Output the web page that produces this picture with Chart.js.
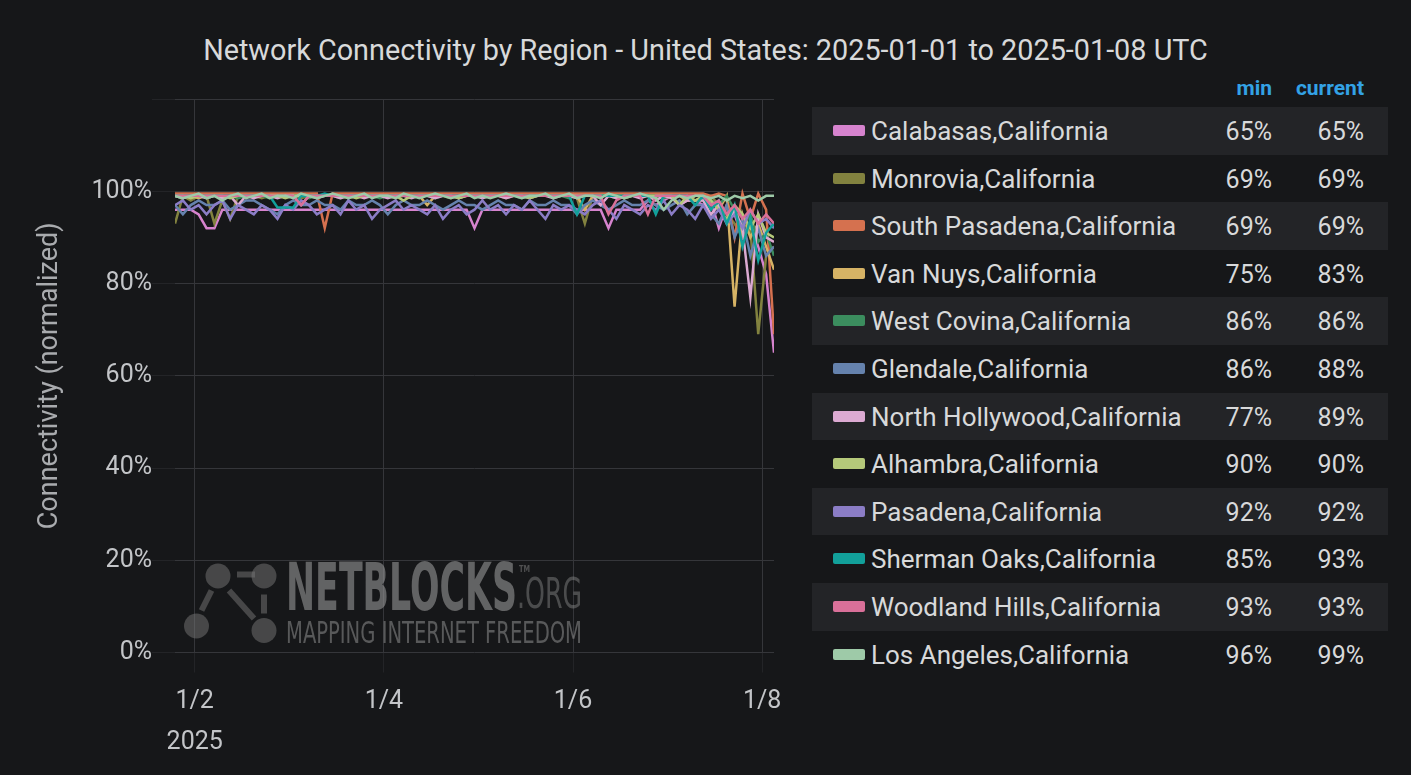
<!DOCTYPE html>
<html>
<head>
<meta charset="utf-8">
<script src="https://cdn.jsdelivr.net/npm/chart.js@4.4.1/dist/chart.umd.min.js"></script>
<style>
  html, body { margin: 0; padding: 0; background: #161719; }
  body { width: 1411px; height: 775px; position: relative; overflow: hidden; font-family: Roboto, sans-serif; }
  #title { position: absolute; left: 0; top: 36px; width: 1411px; text-align: center; font-size: 28.8px; line-height: 28px; color: #d8d9da; white-space: nowrap; }
  #chart { position: absolute; left: 0; top: 0; }
  #legend { position: absolute; left: 812px; top: 107px; width: 576px; }
  .row { position: relative; height: 47.6px; }
  .row.alt { background: #232427; }
  .sw { position: absolute; left: 21px; top: 18px; width: 32px; height: 11px; border-radius: 2px; }
  .name { position: absolute; left: 59px; top: 1px; line-height: 47.6px; font-size: 26px; color: #d8d9da; white-space: nowrap; }
  .val { position: absolute; top: 1px; line-height: 47.6px; font-size: 25px; color: #d8d9da; }
  .head { position: absolute; top: 74px; line-height: 28px; font-size: 21px; font-weight: 700; color: #33a2e5; }
</style>
</head>
<body>
<div id="title">Network Connectivity by Region - United States: 2025-01-01 to 2025-01-08 UTC</div>
<canvas id="chart" width="800" height="775"></canvas>
<div class="head" style="right:139px">min</div>
<div class="head" style="right:47px">current</div>
<div id="legend"></div>
<script>
// hours since 2025-01-01 00:00 UTC
const hours = [
  19, 21, 23, 25, 27, 29, 31, 33, 35, 37,
  39, 41, 43, 45, 47, 49, 51, 53, 55, 57,
  59, 61, 63, 65, 67, 69, 71, 73, 75, 77,
  79, 81, 83, 85, 87, 89, 91, 93, 95, 97,
  99, 101, 103, 105, 107, 109, 111, 113, 115, 117,
  119, 121, 123, 125, 127, 129, 131, 133, 135, 137,
  139, 141, 143, 145, 147, 149, 151,
  153, 155, 157, 159, 161, 163, 165, 167, 169, 171
];

const dayTicks = [24, 72, 120, 168];
const dayLabels = ['1/2', '1/4', '1/6', '1/8'];
const yearLabel = '2025';

const regions = [
  'Calabasas,California', 'Monrovia,California', 'South Pasadena,California', 'Van Nuys,California',
  'West Covina,California', 'Glendale,California', 'North Hollywood,California', 'Alhambra,California',
  'Pasadena,California', 'Sherman Oaks,California', 'Woodland Hills,California', 'Los Angeles,California'
];
const minVals = [65, 69, 69, 75, 86, 86, 77, 90, 92, 85, 93, 96];
const currentVals = [65, 69, 69, 83, 86, 88, 89, 90, 92, 93, 93, 99];

const calabasas = [
  96, 96, 96, 95, 92, 92, 96, 96, 96, 96,
  96, 96, 96, 96, 96, 96, 96, 96, 96, 96,
  96, 96, 96, 96, 96, 96, 96, 96, 96, 96,
  96, 96, 96, 96, 96, 96, 96, 96, 92, 96,
  96, 96, 96, 96, 96, 96, 96, 96, 96, 96,
  96, 96, 96, 96, 96, 92, 96, 96, 96, 96,
  98, 97, 98, 99, 97, 98, 98,
  97, 98, 92, 97, 95, 90, 93, 88, 82, 65
];
const monrovia = [
  93, 99, 98, 99, 99, 93, 98, 94, 99, 99,
  99, 98.5, 99, 99, 99, 99, 98.5, 99, 99, 99,
  99, 99, 98.5, 99, 99, 99, 99, 99, 98.5, 99,
  99, 99, 99, 99, 99, 98.5, 99, 99, 99, 99,
  99, 99, 98.5, 99, 99, 99, 99, 99, 99, 99,
  99, 98.5, 93, 99, 99, 99, 99, 98.5, 99, 99,
  99, 99, 99, 98.5, 99, 99, 98,
  98, 99, 97, 95, 93, 90, 92, 69, 86, 88
];
const southPasadena = [
  99.5, 99.5, 99.5, 99.5, 99.5, 99.5, 99.5, 99.5, 99.5, 99.5,
  99.5, 99.5, 99.5, 99.5, 99.5, 99.5, 99.5, 99.5, 99.5, 92,
  99.5, 99.5, 99.5, 99.5, 99.5, 99.5, 99.5, 99.5, 99.5, 99.5,
  99.5, 99.5, 99.5, 99.5, 99.5, 99.5, 99.5, 99.5, 99.5, 99.5,
  99.5, 99.5, 99.5, 99.5, 99.5, 99.5, 99.5, 99.5, 99.5, 99.5,
  99.5, 99.5, 99.5, 99.5, 99.5, 99.5, 99.5, 99.5, 99.5, 99.5,
  99.5, 99.5, 99.5, 99.5, 99.5, 99.5, 99.5,
  99.5, 99, 99.5, 99, 90, 99.5, 94, 99.5, 96, 69
];
const vanNuys = [
  99, 99, 99, 98.5, 99, 99, 99, 99, 99, 99,
  99, 99, 99, 99, 99, 99, 99, 99, 99, 99,
  99, 99, 99, 99, 99, 99, 99, 99, 99, 99,
  99, 99, 97, 99, 99, 99, 99, 99, 99, 99,
  99, 99, 99, 99, 99, 99, 99, 99, 99, 99,
  99, 99, 96, 99, 99, 99, 99, 99, 99, 99,
  99, 98.5, 99, 99, 99, 98, 99,
  99, 98, 96, 99, 75, 95, 90, 93, 88, 83
];
const westCovina = [
  99, 98.5, 99, 99, 98.5, 99, 99, 99, 98.5, 99,
  99, 99, 98.5, 99, 99, 99, 99, 98.5, 99, 99,
  99, 98.5, 99, 99, 99, 99, 98.5, 99, 99, 99,
  99, 99, 99, 98.5, 99, 99, 99, 99, 99, 98.5,
  99, 99, 99, 99, 98.5, 99, 99, 99, 99, 99,
  98.5, 99, 99, 99, 99, 99, 98.5, 99, 99, 99,
  99, 99, 98.5, 99, 99, 99, 98,
  99, 98, 97, 99, 96, 92, 95, 89, 91, 86
];
const glendale = [
  97, 95, 97, 98, 97, 97, 98, 96, 97, 98,
  98, 97, 96, 95, 97, 98, 97, 97, 98, 97,
  97, 96, 98, 97, 97, 98, 97, 95, 97, 98,
  97, 97, 98, 97, 96, 97, 98, 97, 97, 96,
  97, 98, 97, 97, 96, 98, 97, 97, 98, 97,
  97, 95, 97, 98, 97, 96, 97, 98, 97, 97,
  98, 97, 96, 97, 98, 95, 97,
  97, 95, 93, 97, 90, 94, 86, 92, 86, 88
];
const northHollywood = [
  99, 98.5, 99, 99, 98.5, 99, 98.5, 99, 97, 99,
  98.5, 99, 99, 98.5, 99, 99, 97, 99, 98.5, 99,
  99, 98.5, 99, 99, 98.5, 99, 99, 98.5, 99, 99,
  98.5, 99, 99, 98.5, 99, 99, 98.5, 99, 99, 98.5,
  99, 99, 98.5, 99, 99, 98.5, 99, 99, 98.5, 99,
  99, 98.5, 99, 99, 97, 99, 98.5, 99, 99, 98.5,
  99, 98, 99, 98.5, 97, 98, 98,
  98, 95, 97, 93, 96, 92, 77, 95, 90, 89
];
const alhambra = [
  99, 99, 98.5, 99, 99, 99, 99, 98.5, 99, 99,
  99, 99, 99, 99, 98.5, 99, 99, 99, 99, 99,
  99, 99, 99, 98.5, 99, 99, 99, 99, 99, 98,
  99, 99, 99, 99, 99, 99, 98.5, 99, 99, 99,
  99, 99, 99, 99, 99, 98.5, 99, 99, 99, 99,
  99, 99, 99, 99, 99, 99, 99, 98.5, 99, 99,
  99, 99, 99, 99, 97, 99, 98,
  99, 98, 96, 94, 97, 95, 92, 95, 91, 90
];
const pasadena = [
  97, 98, 96, 97, 95, 97, 98, 94, 97, 96,
  95, 97, 96, 94, 97, 96, 98, 97, 95, 96,
  97, 95, 98, 96, 97, 94, 96, 97, 98, 96,
  97, 96, 95, 97, 94, 96, 97, 95, 96, 98,
  96, 97, 95, 97, 96, 98, 96, 94, 97, 96,
  97, 96, 95, 97, 98, 96, 94, 97, 96, 95,
  97, 96, 98, 95, 97, 96, 94,
  97, 94, 96, 93, 95, 92, 96, 93, 94, 92
];
const shermanOaks = [
  99, 99, 99, 99, 99, 99, 99, 99, 99, 99,
  99, 99, 99, 96.5, 96.5, 96.5, 99, 99, 99, 99.5,
  99, 99, 99, 99, 99, 99, 99, 99, 99, 99,
  99, 99, 99, 99, 99, 99, 99, 99, 99, 99,
  99, 99, 99, 99, 99, 99, 99, 99, 99, 99,
  99, 95, 99, 99, 99, 99, 99, 99, 99, 99,
  99, 95, 99, 99, 99, 99, 97,
  99, 96, 98, 93, 97, 88, 94, 85, 91, 93
];
const woodlandHills = [
  99, 99, 99, 99, 99, 99, 99, 99, 99, 99,
  99, 99, 99, 99, 99, 99, 97, 99, 99, 99,
  99, 99, 99, 99, 99, 99, 99, 99, 99, 99,
  99, 99, 99, 99, 99, 99, 99, 99, 99, 99,
  99, 99, 99, 99, 99, 99, 99, 99, 99, 99,
  99, 99, 99, 99, 99, 95, 98, 99, 99, 99,
  95, 99, 99, 99, 99, 99, 99,
  99, 97, 98, 95, 97, 94, 96, 93, 95, 93
];
const losAngeles = [
  99, 98.5, 99, 99.5, 98.5, 99, 98, 99, 99.5, 98.5,
  99, 99.5, 98.5, 99, 99, 98.5, 99.5, 99, 98.5, 99,
  99.5, 99, 98.5, 99, 99.5, 98.5, 99, 99, 98.5, 99.5,
  99, 98.5, 99, 99.5, 99, 98.5, 99, 99.5, 98.5, 99,
  98.5, 99, 99.5, 99, 98.5, 99, 99, 99.5, 98.5, 99,
  99.5, 98.5, 99, 99, 98.5, 99.5, 99, 98.5, 99, 99.5,
  99, 98.5, 96, 98, 99, 98.5, 99,
  99, 98.5, 99, 98, 99, 98.5, 99, 98, 99, 99
];

const seriesValues = [
  calabasas, monrovia, southPasadena, vanNuys, westCovina, glendale,
  northHollywood, alhambra, pasadena, shermanOaks, woodlandHills, losAngeles
];
const palette = [
  '#d683ce', '#82823f', '#d5714f', '#d6b365', '#3b8d5e', '#6582ad',
  '#dcaad2', '#b5c97a', '#8b7dc6', '#12a09a', '#d97099', '#9ecaa8'
];

// legend table
const legend = document.getElementById('legend');
regions.forEach((name, i) => {
  const row = document.createElement('div');
  row.className = 'row' + (i % 2 === 0 ? ' alt' : '');
  row.innerHTML =
    `<div class="sw" style="background:${palette[i]}"></div>` +
    `<div class="name">${name}</div>` +
    `<div class="val" style="right:116px">${minVals[i]}%</div>` +
    `<div class="val" style="right:24px">${currentVals[i]}%</div>`;
  legend.appendChild(row);
});

// NETBLOCKS watermark behind the lines
function fitText(ctx, text, x, base, w, capH, weight) {
  const size = capH / 0.716;
  ctx.font = `${weight} ${size}px "Liberation Sans Narrow", "DejaVu Sans Condensed", sans-serif`;
  const m = ctx.measureText(text).width;
  ctx.save();
  ctx.translate(x, base);
  ctx.scale(w / m, 1);
  ctx.fillText(text, 0, 0);
  ctx.restore();
}

const watermark = {
  id: 'watermark',
  beforeDatasetsDraw(chart) {
    const ctx = chart.ctx;
    const ox = chart.chartArea.left;
    const oy = chart.chartArea.bottom;
    ctx.save();
    ctx.fillStyle = 'rgba(120,120,120,0.5)';
    ctx.strokeStyle = 'rgba(120,120,120,0.5)';
    [[43, -76.5], [89, -76.5], [21.5, -26.5], [89, -22]].forEach(([dx, dy]) => {
      ctx.beginPath();
      ctx.arc(ox + dx, oy + dy, 12.5, 0, Math.PI * 2);
      ctx.fill();
    });
    ctx.lineWidth = 6;
    ctx.lineCap = 'butt';
    [[[62, -78], [80, -78]], [[36.5, -62], [26.5, -42]], [[54, -62], [79, -34]], [[89, -58], [89, -39]]]
      .forEach(([a, b]) => {
        ctx.beginPath();
        ctx.moveTo(ox + a[0], oy + a[1]);
        ctx.lineTo(ox + b[0], oy + b[1]);
        ctx.stroke();
      });
    ctx.fillStyle = 'rgba(150,150,150,0.6)';
    fitText(ctx, 'NETBLOCKS', ox + 111, oy - 42.5, 231, 47, 'bold');
    ctx.fillStyle = 'rgba(150,150,150,0.45)';
    fitText(ctx, 'TM', ox + 344, oy - 80.5, 11, 6, 'bold');
    ctx.fillStyle = 'rgba(150,150,150,0.42)';
    fitText(ctx, '.ORG', ox + 342, oy - 44.5, 65, 31, 'normal');
    ctx.fillStyle = 'rgba(150,150,150,0.52)';
    fitText(ctx, 'MAPPING INTERNET FREEDOM', ox + 111, oy - 9.5, 296, 21, 'normal');
    ctx.restore();
  }
};

Chart.defaults.font.family = 'Roboto';

const datasets = seriesValues.map((vals, i) => ({
  label: regions[i],
  data: hours.map((h, k) => ({ x: h, y: vals[k] })),
  borderColor: palette[i],
  backgroundColor: palette[i],
  borderWidth: 2.5,
  pointRadius: 0,
  fill: false,
  tension: 0,
  order: regions.length - i
}));

new Chart(document.getElementById('chart').getContext('2d'), {
  type: 'line',
  data: { datasets },
  options: {
    responsive: false,
    animation: false,
    layout: { padding: { top: 99, right: 26, left: 0, bottom: 0 } },
    plugins: {
      legend: { display: false },
      tooltip: { enabled: false }
    },
    scales: {
      x: {
        type: 'linear',
        min: 19,
        max: 171,
        afterBuildTicks: s => { s.ticks = dayTicks.map(v => ({ value: v })); },
        afterFit: s => { s.height = 122.5; },
        ticks: {
          autoSkip: false,
          maxRotation: 0,
          color: '#c3c5c8',
          padding: 8,
          font: { size: 25, lineHeight: 1.66 },
          callback: (v, i) => i === 0 ? [dayLabels[0], yearLabel] : dayLabels[i]
        },
        grid: { color: '#35363a', tickColor: '#232427', tickLength: 20 },
        border: { display: false }
      },
      y: {
        min: 0,
        max: 120,
        afterFit: s => { s.width = 175; },
        ticks: {
          stepSize: 20,
          color: '#c3c5c8',
          padding: 0,
          font: { size: 25 },
          callback: v => v >= 120 ? '' : v + '%'
        },
        grid: { color: '#35363a', tickColor: '#232427', tickLength: 23 },
        border: { display: false },
        title: {
          display: true,
          text: 'Connectivity (normalized)',
          color: '#a9abae',
          font: { size: 27 },
          padding: { top: 34, bottom: 0 }
        }
      }
    }
  },
  plugins: [watermark]
});
</script>
</body>
</html>
